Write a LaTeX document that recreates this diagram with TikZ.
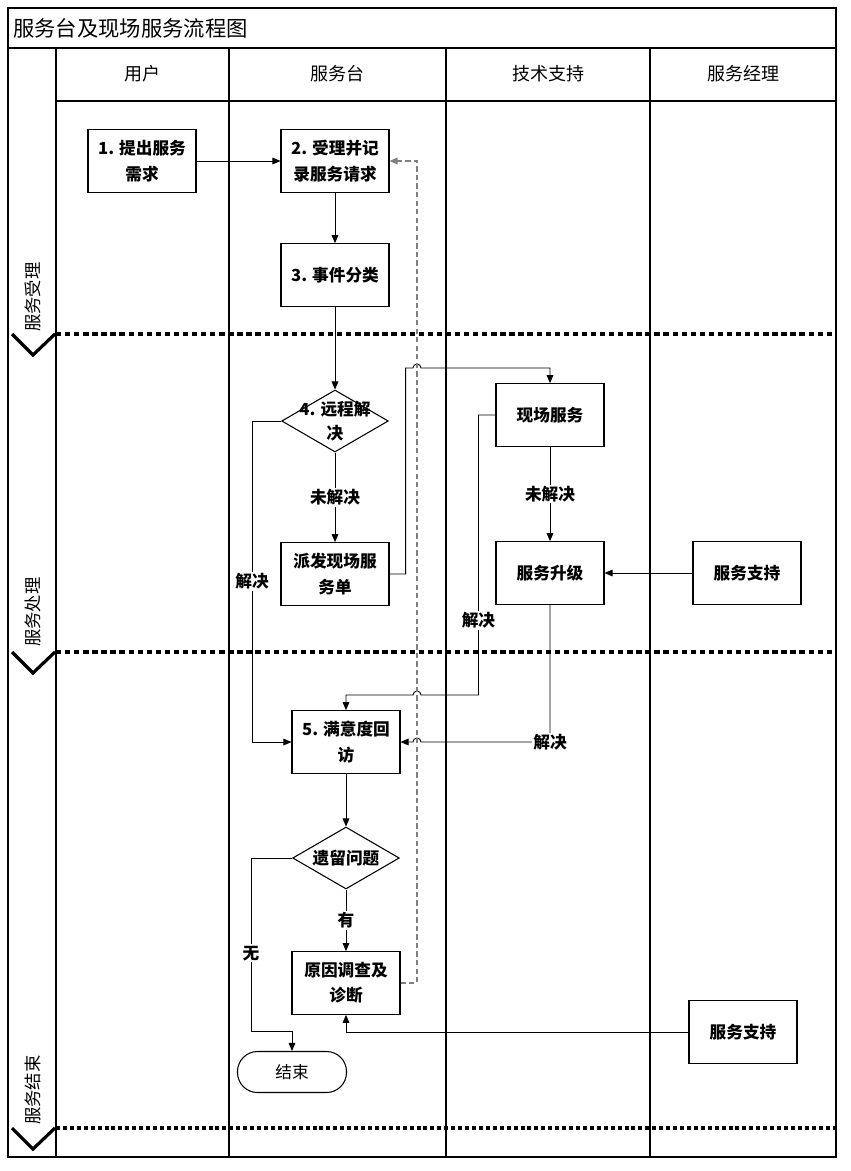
\documentclass[tikz,border=0pt]{standalone}
\usepackage{fontspec}
\newfontfamily\cjk{Noto Sans CJK SC}
\usetikzlibrary{shapes.geometric,arrows.meta}
\begin{document}
\begin{tikzpicture}[x=0.75pt,y=-0.75pt,
  lane/.style={line width=0.9pt, draw=black},
  phase/.style={line width=2.4pt, dash pattern=on 4pt off 2.8pt},
  phasedot/.style={line width=2.4pt, dash pattern=on 3pt off 2.2pt},
  chev/.style={line width=2.4pt},
  hdr/.style={font=\cjk\fontsize{13.5}{16}\selectfont},
  phl/.style={font=\cjk\fontsize{13}{16}\selectfont, rotate=90},
  box/.style={draw, line width=0.8pt, minimum width=81pt, minimum height=47pt, align=center, inner sep=2pt, font=\cjk\bfseries\fontsize{12.5}{19}\selectfont},
  dia/.style={draw, diamond, line width=0.8pt, minimum width=80pt, minimum height=46.5pt, inner sep=0pt},
  dtxt/.style={font=\cjk\bfseries\fontsize{12.5}{18}\selectfont, align=center, inner sep=0pt},
  term/.style={draw, line width=0.8pt, rounded corners=15pt, minimum width=81.75pt, minimum height=30.75pt, font=\cjk\fontsize{12.5}{16}\selectfont},
  conn/.style={line width=0.7pt, -{Triangle[length=6pt,width=5pt]}},
  dconn/.style={line width=0.9pt, draw=gray, dash pattern=on 4pt off 2.4pt, -{Triangle[length=6pt,width=5pt]}},
  lbl/.style={fill=white, inner sep=1pt, font=\cjk\bfseries\fontsize{12.5}{15}\selectfont}
]
\useasboundingbox (0,0) rectangle (850,1171);
\fill[white] (0,0) rectangle (850,1171);

% frame and lanes
\draw[lane] (8,8) rectangle (836,1157);
\draw[lane] (8,48) -- (836,48);
\draw[lane] (56,101) -- (836,101);
\foreach \x in {56,229,446,650} \draw[lane] (\x,48) -- (\x,1157);

\node[anchor=west, inner sep=0pt, font=\cjk\fontsize{16}{18}\selectfont] (title) at (13,28) {服务台及现场服务流程图};
\node[hdr] (h1) at (142,74) {用户};
\node[hdr] (h2) at (337,74) {服务台};
\node[hdr] (h3) at (548,74) {技术支持};
\node[hdr] (h4) at (743,74) {服务经理};

% phases
\draw[phase] (56,334) -- (836,334);
\draw[phase] (56,652) -- (836,652);
\draw[phasedot] (56,1128) -- (836,1128);
\foreach \y in {334,652,1128} \draw[chev] (12,\y) -- (33,\y+21) -- (55,\y);
\node[phl] (p1) at (33,297) {服务受理};
\node[phl] (p2) at (33,612) {服务处理};
\node[phl] (p3) at (33,1090) {服务结束};

% nodes
\node[box] (n1) at (142,161) {1. 提出服务\\需求};
\node[box] (n2) at (335,161) {2. 受理并记\\录服务请求};
\node[box] (n3) at (335,275) {3. 事件分类};
\node[dia] (d4) at (335,421) {};
\node[dtxt] (d4t) at (335,421) {4. 远程解\\决};
\node[box] (pf) at (335,574) {派发现场服\\务单};
\node[box] (xc) at (550,415) {现场服务};
\node[box] (sj) at (550,573) {服务升级};
\node[box] (zc1) at (747,573) {服务支持};
\node[box] (my) at (346,742) {5. 满意度回\\访};
\node[dia] (d6) at (346,858) {};
\node[dtxt] (d6t) at (346,858) {遗留问题};
\node[box] (yy) at (346,983) {原因调查及\\诊断};
\node[term] (end) at (292,1072) {结束};
\node[box] (zc2) at (743,1032) {服务支持};

% connectors
\draw[conn] (n1.east) -- (n2.west);
\draw[conn] (n2.south) -- (n3.north);
\draw[conn] (n3.south) -- (d4.north);
\draw[conn] (d4.south) -- node[lbl]{未解决} (pf.north);
\draw[conn] (d4.west) -- ++(-29,0) coordinate (c1) -- node[lbl,pos=0.5]{解决} (c1 |- my.west) -- (my.west);
\draw[conn] (pf.east) -- ++(16,0) |- (413,368) arc[start angle=180,end angle=0,radius=3pt] -| (xc.north);
\draw[conn] (xc.south) -- node[lbl]{未解决} (sj.north);
\draw[conn] (xc.west) -- ++(-17,0) coordinate (c2) -- node[lbl,pos=0.734]{解决} (c2 |- 0,695) -- (421,695) arc[start angle=0,end angle=180,radius=3pt] -| (my.north);
\draw[conn] (sj.south) -- (sj.south |- my.east) node[lbl]{解决} -- (421,742) arc[start angle=0,end angle=180,radius=3pt] -- (my.east);
\draw[conn] (zc1.west) -- (sj.east);
\draw[conn] (my.south) -- (d6.north);
\draw[conn] (d6.south) -- node[lbl]{有} (yy.north);
\draw[conn] (d6.west) -- (251,858) -- node[lbl,pos=0.55]{无} (251,1031) -| (end.north);
\draw[conn] (zc2.west) -| (yy.south);
\draw[dconn] (yy.east) -- (417,983) |- (n2.east);
\end{tikzpicture}
\end{document}
